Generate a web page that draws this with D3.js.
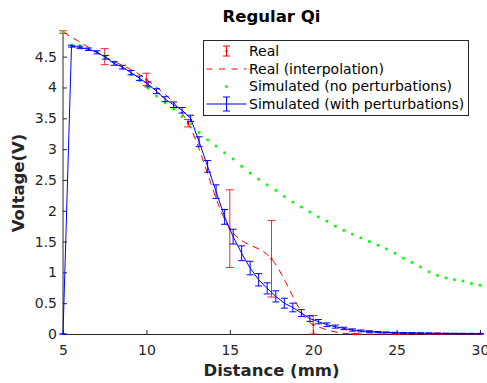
<!DOCTYPE html>
<html>
<head>
<meta charset="utf-8">
<script src="https://cdn.jsdelivr.net/npm/d3@7"></script>
<style>
body { margin: 0; background: #fff; }
svg text { font-family: "DejaVu Sans", sans-serif; }
</style>
</head>
<body>
<svg width="487" height="383"></svg>
<script>
// measured points (Real)
var realX = [5, 7.5, 10, 12.5, 15, 17.5, 20, 22.5, 25, 27.5, 30];
var realY = [4.9, 4.5, 4.13, 3.42, 1.71, 1.22, 0.15, 0, 0, 0, 0];
var realErr = [0.02, 0.13, 0.1, 0.06, 0.63, 0.62, 0.15, 0.01, 0.005, 0.005, 0.005];

// simulation grid
var simX = [5, 5.51, 6.02, 6.53, 7.04, 7.55, 8.06, 8.57, 9.08, 9.59,
  10.10, 10.61, 11.12, 11.63, 12.14, 12.65, 13.16, 13.67, 14.18, 14.69,
  15.20, 15.71, 16.22, 16.73, 17.24, 17.76, 18.27, 18.78, 19.29, 19.80,
  20.31, 20.82, 21.33, 21.84, 22.35, 22.86, 23.37, 23.88, 24.39, 24.90,
  25.41, 25.92, 26.43, 26.94, 27.45, 27.96, 28.47, 28.98, 29.49, 30];

var simNoPert = [4.9, 4.69, 4.68, 4.63, 4.58, 4.5, 4.41, 4.31, 4.21, 4.11,
  3.99, 3.86, 3.75, 3.65, 3.53, 3.41, 3.27, 3.15, 3.05, 2.94,
  2.84, 2.72, 2.61, 2.51, 2.42, 2.33, 2.23, 2.14, 2.06, 1.98,
  1.9, 1.83, 1.75, 1.68, 1.62, 1.56, 1.5, 1.44, 1.38, 1.31,
  1.23, 1.16, 1.09, 1.01, 0.95, 0.91, 0.88, 0.86, 0.82, 0.79];

var simPert = [0, 4.67, 4.65, 4.62, 4.57, 4.49, 4.39, 4.33, 4.24, 4.15,
  4.05, 3.94, 3.81, 3.72, 3.63, 3.5, 3.12, 2.72, 2.31, 1.9,
  1.58, 1.31, 1.07, 0.88, 0.74, 0.61, 0.5, 0.43, 0.34, 0.25,
  0.2, 0.15, 0.12, 0.09, 0.065, 0.05, 0.04, 0.03, 0.025, 0.02,
  0.018, 0.016, 0.014, 0.012, 0.01, 0.009, 0.008, 0.007, 0.006, 0.005];

var simPertErr = [0, 0.015, 0.02, 0.02, 0.025, 0.03, 0.03, 0.03, 0.035, 0.035,
  0.04, 0.04, 0.04, 0.045, 0.045, 0.05, 0.08, 0.095, 0.11, 0.12,
  0.12, 0.12, 0.11, 0.1, 0.09, 0.09, 0.08, 0.07, 0.055, 0.045,
  0.035, 0.03, 0.025, 0.02, 0.018, 0.015, 0.012, 0.01, 0.008, 0.008,
  0.007, 0.007, 0.006, 0.006, 0.006, 0.005, 0.005, 0.005, 0.005, 0.005];

var xTicks = [5, 10, 15, 20, 25, 30];
var yTicks = [0, 0.5, 1, 1.5, 2, 2.5, 3, 3.5, 4, 4.5];
var legendLabels = ["Real", "Real (interpolation)", "Simulated (no perturbations)", "Simulated (with perturbations)"];

var svg = d3.select("svg");
var margin = {left: 63, right: 7, top: 32, bottom: 49};
var width = 487 - margin.left - margin.right;
var height = 383 - margin.top - margin.bottom;

var x = d3.scaleLinear().domain([5, 30]).range([0, width]);
var y = d3.scaleLinear().domain([0, 4.9]).range([height, 0]);

var g = svg.append("g").attr("transform", "translate(" + margin.left + "," + margin.top + ")");

// axes
var xAxis = g.append("g")
  .attr("transform", "translate(0," + height + ")")
  .call(d3.axisBottom(x).tickValues(xTicks).tickSizeInner(-4).tickSizeOuter(0).tickPadding(11));
var yAxis = g.append("g")
  .call(d3.axisLeft(y).tickValues(yTicks).tickFormat(d3.format("")).tickSizeInner(-4).tickSizeOuter(0).tickPadding(6));
[xAxis, yAxis].forEach(function (a) {
  a.select(".domain").attr("stroke", "#262626");
  a.selectAll(".tick line").attr("stroke", "#262626");
  a.selectAll("text").attr("fill", "#262626").style("font-size", "14px");
});
yAxis.select(".domain").attr("d", "M0," + height + "V" + y(4.9));

function errorbars(sel, xs, ys, es, color, cap) {
  var idx = d3.range(xs.length);
  var eb = sel.append("g").attr("stroke", color).attr("stroke-width", 1).attr("fill", "none");
  eb.selectAll("path").data(idx).enter().append("path")
    .attr("d", function (i) {
      var cx = x(xs[i]), top = y(ys[i] + es[i]), bot = y(ys[i] - es[i]);
      return "M" + cx + "," + top + "V" + bot +
        "M" + (cx - cap / 2) + "," + top + "h" + cap +
        "M" + (cx - cap / 2) + "," + bot + "h" + cap;
    });
  return eb;
}

// Real with error bars
errorbars(g, realX, realY, realErr, "#ff0000", 8).attr("stroke-opacity", 0.85);
g.append("g").selectAll("circle").data(d3.range(realX.length)).enter().append("circle")
  .attr("cx", function (i) { return x(realX[i]); })
  .attr("cy", function (i) { return y(realY[i]); })
  .attr("r", 1.2)
  .attr("fill", "#ff0000");

// Real interpolation
var interp = d3.line()
  .x(function (i) { return x(realX[i]); })
  .y(function (i) { return y(realY[i]); })
  .curve(d3.curveMonotoneX);
g.append("path")
  .attr("d", interp(d3.range(realX.length)))
  .attr("fill", "none")
  .attr("stroke", "#ff0000")
  .attr("stroke-width", 1)
  .attr("stroke-dasharray", "7,5");

// simulated, no perturbations
g.append("g").selectAll("rect").data(d3.range(simX.length)).enter().append("rect")
  .attr("x", function (i) { return x(simX[i]) - 1.3; })
  .attr("y", function (i) { return y(simNoPert[i]) - 1.3; })
  .attr("width", 2.6)
  .attr("height", 2.6)
  .attr("fill", "#00ff00");

// simulated, with perturbations
var simLine = d3.line()
  .x(function (i) { return x(simX[i]); })
  .y(function (i) { return y(simPert[i]); });
g.append("path")
  .attr("d", simLine(d3.range(simX.length)))
  .attr("fill", "none")
  .attr("stroke", "#0000ff")
  .attr("stroke-width", 1);
errorbars(g, simX, simPert, simPertErr, "#0000ff", 7);

// title + labels
svg.append("text")
  .attr("x", margin.left + width / 2).attr("y", 22)
  .attr("text-anchor", "middle")
  .style("font-size", "16.5px").style("font-weight", "bold")
  .text("Regular Qi");
svg.append("text")
  .attr("x", margin.left + width / 2).attr("y", 376)
  .attr("text-anchor", "middle")
  .attr("fill", "#262626")
  .style("font-size", "16.5px").style("font-weight", "bold")
  .text("Distance (mm)");
svg.append("text")
  .attr("transform", "translate(24," + (margin.top + height / 2) + ") rotate(-90)")
  .attr("text-anchor", "middle")
  .attr("fill", "#262626")
  .style("font-size", "16.5px").style("font-weight", "bold")
  .text("Voltage(V)");

// legend
var leg = svg.append("g").attr("transform", "translate(203.5,40.5)");
leg.append("rect").attr("width", 265).attr("height", 75)
  .attr("fill", "#fff").attr("stroke", "#262626").attr("stroke-width", 1);
var rowY = [10.5, 28.5, 46, 63.5];
var symX = 23;
leg.selectAll("text").data(legendLabels).enter().append("text")
  .attr("x", 45.5)
  .attr("y", function (d, i) { return rowY[i]; })
  .attr("dy", "0.35em")
  .attr("fill", "#000")
  .style("font-size", "14px")
  .text(function (d) { return d; });
// Real symbol
leg.append("path")
  .attr("d", "M" + symX + "," + (rowY[0] - 5) + "V" + (rowY[0] + 5) +
    "M" + (symX - 3.5) + "," + (rowY[0] - 5) + "h7M" + (symX - 3.5) + "," + (rowY[0] + 5) + "h7")
  .attr("stroke", "#ff0000").attr("fill", "none");
leg.append("circle").attr("cx", symX).attr("cy", rowY[0]).attr("r", 1.2).attr("fill", "#ff0000");
// interpolation symbol
leg.append("line").attr("x1", 3).attr("x2", 43).attr("y1", rowY[1]).attr("y2", rowY[1])
  .attr("stroke", "#ff0000").attr("stroke-dasharray", "6,6.5");
// no perturbations symbol
leg.append("rect").attr("x", symX - 1.3).attr("y", rowY[2] - 1.3).attr("width", 2.6).attr("height", 2.6)
  .attr("fill", "#00ff00");
// with perturbations symbol
leg.append("line").attr("x1", 3).attr("x2", 43).attr("y1", rowY[3]).attr("y2", rowY[3])
  .attr("stroke", "#0000ff");
leg.append("path")
  .attr("d", "M" + symX + "," + (rowY[3] - 7) + "V" + (rowY[3] + 7) +
    "M" + (symX - 3.5) + "," + (rowY[3] - 7) + "h7M" + (symX - 3.5) + "," + (rowY[3] + 7) + "h7")
  .attr("stroke", "#0000ff").attr("fill", "none");
</script>
</body>
</html>
